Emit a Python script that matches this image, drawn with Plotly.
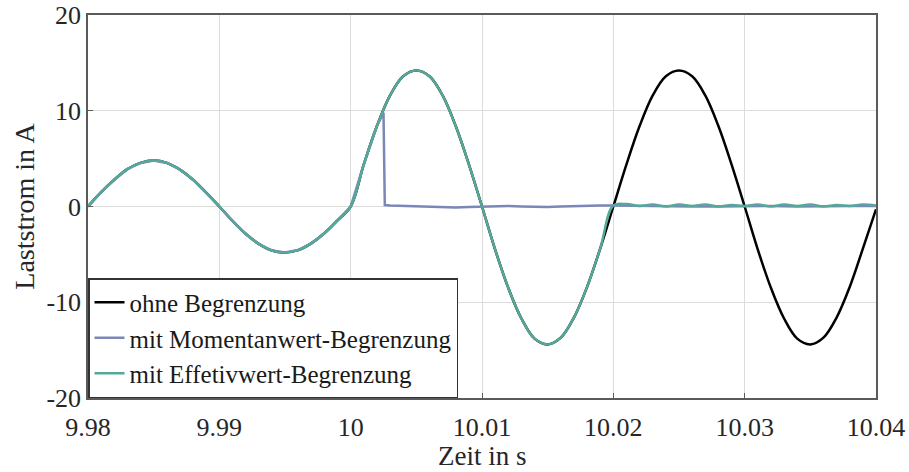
import plotly.graph_objects as go

# Zeitachse (s), Abtastung 1 ms
t = [9.980, 9.981, 9.982, 9.983, 9.984, 9.985, 9.986, 9.987, 9.988, 9.989,
     9.990, 9.991, 9.992, 9.993, 9.994, 9.995, 9.996, 9.997, 9.998, 9.999,
     10.000, 10.001, 10.002, 10.003, 10.004, 10.005, 10.006, 10.007, 10.008, 10.009,
     10.010, 10.011, 10.012, 10.013, 10.014, 10.015, 10.016, 10.017, 10.018, 10.019,
     10.020, 10.021, 10.022, 10.023, 10.024, 10.025, 10.026, 10.027, 10.028, 10.029,
     10.030, 10.031, 10.032, 10.033, 10.034, 10.035, 10.036, 10.037, 10.038, 10.039,
     10.040]

# ohne Begrenzung (A)
i_ohne = [0, 1.5, 2.8, 3.9, 4.55, 4.8, 4.55, 3.85, 2.8, 1.45,
          0, -1.5, -2.85, -3.9, -4.6, -4.8, -4.55, -3.85, -2.8, -1.45,
          0, 4.4, 8.4, 11.6, 13.6, 14.2, 13.6, 11.6, 8.4, 4.4,
          0, -4.5, -8.5, -11.7, -13.8, -14.4, -13.7, -11.6, -8.4, -4.4,
          0, 4.4, 8.4, 11.6, 13.6, 14.2, 13.6, 11.6, 8.4, 4.4,
          0, -4.5, -8.5, -11.7, -13.8, -14.4, -13.7, -11.6, -8.4, -4.4,
          -0.3]

# mit Effektivwert-Begrenzung (A)
i_eff = [0, 1.5, 2.8, 3.9, 4.55, 4.8, 4.55, 3.85, 2.8, 1.45,
         0, -1.5, -2.85, -3.9, -4.6, -4.8, -4.55, -3.85, -2.8, -1.45,
         0, 4.4, 8.4, 11.6, 13.6, 14.2, 13.6, 11.6, 8.4, 4.4,
         0, -4.5, -8.5, -11.7, -13.8, -14.4, -13.7, -11.6, -8.4, -4.4,
         0.1, 0.25, 0.05, 0.2, 0.0, 0.2, 0.05, 0.2, 0.0, 0.15,
         0.05, 0.2, 0.0, 0.2, 0.05, 0.2, 0.0, 0.15, 0.05, 0.2,
         0.1]

# mit Momentanwert-Begrenzung (A)
t_mom = [9.980, 9.981, 9.982, 9.983, 9.984, 9.985, 9.986, 9.987, 9.988, 9.989,
         9.990, 9.991, 9.992, 9.993, 9.994, 9.995, 9.996, 9.997, 9.998, 9.999,
         10.000, 10.001, 10.002, 10.0025, 10.0026, 10.003, 10.004, 10.005, 10.006, 10.007,
         10.008, 10.009, 10.010, 10.011, 10.012, 10.013, 10.014, 10.015, 10.016, 10.017,
         10.018, 10.019, 10.020, 10.022, 10.024, 10.026, 10.028, 10.030, 10.032, 10.034,
         10.036, 10.038, 10.040]
i_mom = [0, 1.5, 2.8, 3.9, 4.55, 4.8, 4.55, 3.85, 2.8, 1.45,
         0, -1.5, -2.85, -3.9, -4.6, -4.8, -4.55, -3.85, -2.8, -1.45,
         0, 4.4, 8.4, 9.8, 0.15, 0.1, 0.05, 0.0, -0.05, -0.1,
         -0.1, -0.05, 0.0, 0.05, 0.05, 0.0, -0.05, -0.05, 0.0, 0.05,
         0.1, 0.1, 0.1, 0.05, 0.05, 0.0, 0.0, 0.05, 0.05, 0.0,
         0.05, 0.05, 0.05]

x_ticks = [9.98, 9.99, 10, 10.01, 10.02, 10.03, 10.04]
x_labels = ['9.98', '9.99', '10', '10.01', '10.02', '10.03', '10.04']
y_ticks = [-20, -10, 0, 10, 20]
y_labels = ['-20', '-10', '0', '10', '20']

font = "Liberation Serif, Times New Roman, serif"

fig = go.Figure()
fig.add_trace(go.Scatter(x=t, y=i_ohne, mode='lines', name='ohne Begrenzung',
                         line=dict(color='#000000', width=2.5, shape='spline')))
fig.add_trace(go.Scatter(x=t_mom, y=i_mom, mode='lines', name='mit Momentanwert-Begrenzung',
                         line=dict(color='#7b87b8', width=2.5)))
fig.add_trace(go.Scatter(x=t, y=i_eff, mode='lines', name='mit Effetivwert-Begrenzung',
                         line=dict(color='#56a898', width=2.5, shape='spline')))

axis_common = dict(showgrid=True, gridcolor='#dcdcdc', gridwidth=1,
                   showline=True, linecolor='#5a5a5a', linewidth=1.5, mirror=True,
                   ticks='inside', ticklen=5, tickcolor='#5a5a5a',
                   zeroline=False, ticklabeloverflow='allow',
                   tickfont=dict(size=26, color='#262626'))

fig.update_layout(
    width=909, height=472,
    margin=dict(l=88, r=33, t=15, b=74, autoexpand=False),
    paper_bgcolor='white', plot_bgcolor='white',
    font=dict(family=font, color='#262626', size=20),
    showlegend=True,
    legend=dict(x=0, y=0, xanchor='left', yanchor='bottom',
                bgcolor='white', bordercolor='#333333', borderwidth=1.5,
                font=dict(size=25, color='#1a1a1a'), itemwidth=30,
                tracegroupgap=0),
    xaxis=dict(range=[9.98, 10.04], tickvals=x_ticks, ticktext=x_labels,
               ticklabelstandoff=5, **axis_common),
    yaxis=dict(range=[-20, 20], tickvals=y_ticks, ticktext=y_labels,
               title=dict(text='Laststrom in A', font=dict(size=28), standoff=4),
               **axis_common),
)

# x-axis title placed as annotation so it can sit close to the bottom edge
fig.add_annotation(text='Zeit in s', xref='paper', yref='paper', x=0.5, y=-0.152,
                   xanchor='center', yanchor='middle', showarrow=False,
                   font=dict(size=27, color='#262626'))

# remove default page margin so the figure fills the window
fig.write_html("out.html", config={'displayModeBar': False},
               post_script="document.body.style.margin='0';")
